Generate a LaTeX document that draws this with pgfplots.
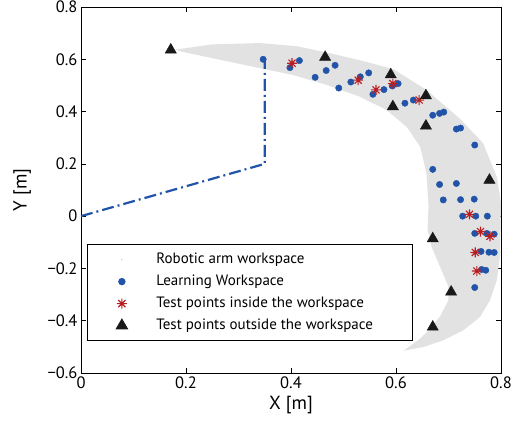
\documentclass[border=0pt]{standalone}
\usepackage{pgfplots}
\pgfplotsset{compat=1.18}
\usepackage{fontspec}
\setmainfont{PT Sans}

\definecolor{armblue}{RGB}{33,84,168}
\definecolor{wsgray}{RGB}{226,226,226}
\definecolor{starred}{RGB}{185,30,35}

% 8-arm asterisk, like the matlab '*' marker
\pgfdeclareplotmark{mstar}{%
  \pgfpathmoveto{\pgfqpoint{-\pgfplotmarksize}{0pt}}%
  \pgfpathlineto{\pgfqpoint{\pgfplotmarksize}{0pt}}%
  \pgfpathmoveto{\pgfqpoint{0pt}{-\pgfplotmarksize}}%
  \pgfpathlineto{\pgfqpoint{0pt}{\pgfplotmarksize}}%
  \pgfpathmoveto{\pgfqpoint{-0.707\pgfplotmarksize}{-0.707\pgfplotmarksize}}%
  \pgfpathlineto{\pgfqpoint{0.707\pgfplotmarksize}{0.707\pgfplotmarksize}}%
  \pgfpathmoveto{\pgfqpoint{-0.707\pgfplotmarksize}{0.707\pgfplotmarksize}}%
  \pgfpathlineto{\pgfqpoint{0.707\pgfplotmarksize}{-0.707\pgfplotmarksize}}%
  \pgfusepathqstroke}

\begin{document}
\begin{tikzpicture}
\useasboundingbox (-81pt,-50pt) rectangle (439pt,373pt);
\begin{axis}[
    scale only axis,
    width=420pt, height=366pt,
    xmin=0, xmax=0.8,
    ymin=-0.6, ymax=0.8,
    xtick={0,0.2,0.4,0.6,0.8},
    xticklabels={0,0.2,0.4,0.6,0.8},
    ytick={-0.6,-0.4,-0.2,0,0.2,0.4,0.6,0.8},
    yticklabels={−0.6,−0.4,−0.2,0,0.2,0.4,0.6,0.8},
    tick align=inside,
    major tick length=5pt,
    tick style={black, line width=0.7pt},
    axis line style={line width=0.9pt},
    ticklabel style={font=\fontsize{16.5}{18}\selectfont},
    xlabel={X [m]},
    ylabel={Y [m]},
    label style={font=\fontsize{19}{21}\selectfont},
    xlabel style={at={(axis description cs:0.5,-0.087)}, anchor=center},
    ylabel style={at={(axis description cs:-0.14,0.5)}, anchor=center},
    legend cell align=left,
    legend style={at={(0.014,0.352)}, anchor=north west,
      draw=black, line width=0.9pt, inner xsep=0pt, inner ysep=4pt,
      font=\fontsize{15}{17}\selectfont,
      nodes={text height=11pt, text depth=4pt, inner ysep=3.5pt},
      /tikz/every odd column/.append style={column sep=4pt}},
    legend image code/.code={\path (0pt,3pt) (62pt,-3pt);
      \draw[#1] plot coordinates {(34pt,0pt)};},
  ]

% robotic arm workspace (outline read off the dotted region)
\addplot[fill=wsgray, draw=none,
    legend image code/.code={\path (0pt,3pt) (62pt,-3pt);
      \fill[black!30] (34pt,0pt) circle (0.7pt);}]
  coordinates {
    (0.180,0.637) (0.250,0.657) (0.341,0.662) (0.411,0.650) (0.468,0.626)
    (0.538,0.593) (0.595,0.562) (0.658,0.483) (0.722,0.372) (0.766,0.279)
    (0.792,0.150) (0.800,0.050) (0.799,-0.054) (0.798,-0.156) (0.792,-0.245)
    (0.779,-0.322) (0.760,-0.386) (0.728,-0.437) (0.690,-0.475) (0.652,-0.501)
    (0.614,-0.515)
    (0.645,-0.470) (0.668,-0.425) (0.685,-0.380) (0.700,-0.320) (0.700,-0.270)
    (0.684,-0.194) (0.668,-0.118) (0.660,-0.050) (0.662,0.036) (0.658,0.164)
    (0.646,0.266) (0.620,0.342) (0.582,0.406) (0.531,0.457) (0.468,0.502)
    (0.404,0.540) (0.341,0.566) (0.260,0.600) (0.190,0.630)
  } -- cycle;
\addlegendentry{Robotic arm workspace}

% arm
\addplot[armblue, line width=2.2pt, dash pattern=on 12pt off 4pt on 2pt off 4pt, forget plot]
  coordinates {(0,0) (0.35,0.2) (0.35,0.6)};

% learning workspace
\addplot[only marks, mark=*, mark size=3.2pt, color=armblue]
  coordinates {
    (0.347,0.600) (0.416,0.595) (0.398,0.568) (0.484,0.577) (0.467,0.557)
    (0.446,0.531) (0.548,0.548) (0.532,0.533) (0.514,0.513) (0.491,0.490)
    (0.577,0.484) (0.556,0.466) (0.604,0.507) (0.593,0.498) (0.617,0.432)
    (0.633,0.444) (0.670,0.386) (0.683,0.393) (0.691,0.398) (0.715,0.333)
    (0.723,0.337) (0.750,0.272) (0.670,0.179) (0.683,0.121) (0.715,0.125)
    (0.690,0.062) (0.723,0.063) (0.749,0.065) (0.727,0.000) (0.752,0.000)
    (0.774,0.000) (0.750,-0.066) (0.773,-0.066) (0.787,-0.069) (0.762,-0.135)
    (0.777,-0.138) (0.787,-0.139) (0.763,-0.204) (0.771,-0.207) (0.750,-0.273)
  };
\addlegendentry{Learning Workspace}

% test points inside
\addplot[only marks, mark=mstar, mark size=5pt, color=starred, line width=1.1pt]
  coordinates {
    (0.402,0.585) (0.528,0.520) (0.562,0.483) (0.594,0.507) (0.644,0.444)
    (0.740,0.007) (0.761,-0.059) (0.779,-0.077) (0.751,-0.139) (0.754,-0.210)
  };
\addlegendentry{Test points inside the workspace}

% test points outside
\addplot[only marks, mark=triangle*, mark size=6.5pt, color=black!90]
  coordinates {
    (0.171,0.636) (0.465,0.608) (0.590,0.541) (0.657,0.461) (0.594,0.419)
    (0.657,0.345) (0.778,0.138) (0.670,-0.086) (0.705,-0.290) (0.670,-0.424)
  };
\addlegendentry{Test points outside the workspace\hspace*{38pt}}
\end{axis}
\end{tikzpicture}
\end{document}
